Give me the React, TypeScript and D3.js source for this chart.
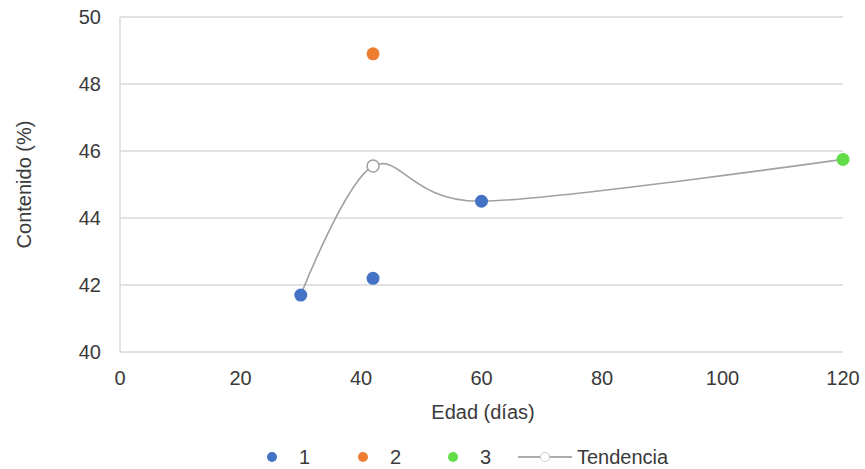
import React from "react";
import * as d3 from "d3";

// Measured samples per group (age in days, content %)
const group1Days = [30, 42, 60];
const group1Values = [41.7, 42.2, 44.5];
const group2Days = [42];
const group2Values = [48.9];
const group3Days = [120];
const group3Values = [45.75];

// Trend: mean content at each age
const trendDays = [30, 42, 60, 120];
const trendValues = [41.7, 45.55, 44.5, 45.75];

const xTicks = [0, 20, 40, 60, 80, 100, 120];
const yTicks = [40, 42, 44, 46, 48, 50];

const legendLabels = ["1", "2", "3", "Tendencia"];

const W = 865;
const H = 469;
const FONT = "Liberation Sans, Arial, sans-serif";
const FS = 20;
const TEXT = "#3a3a3a";

export default function App() {
  const x = d3.scaleLinear().domain([0, 120]).range([120, 843]);
  const y = d3.scaleLinear().domain([40, 50]).range([352, 17]);

  const trendLine = d3
    .line<number>()
    .x((_, i) => x(trendDays[i]))
    .y((d) => y(d))
    .curve(d3.curveCardinal.tension(0.1));

  const groups = [
    { days: group1Days, values: group1Values, color: "#4472c4" },
    { days: group2Days, values: group2Values, color: "#ed7d31" },
    { days: group3Days, values: group3Values, color: "#62dc47" },
  ];

  const legendY = 457;
  const legendItems = [
    { dx: 272, tx: 299, color: groups[0].color },
    { dx: 363, tx: 390, color: groups[1].color },
    { dx: 453, tx: 480, color: groups[2].color },
  ];

  return (
    <svg
      width={W}
      height={H}
      style={{ position: "absolute", left: 0, top: 0, background: "#fff" }}
      fontFamily={FONT}
    >
      {/* horizontal gridlines */}
      {yTicks.map((t) => (
        <line
          key={"g" + t}
          x1={x(0)}
          x2={x(120)}
          y1={y(t)}
          y2={y(t)}
          stroke="#d9d9d9"
          strokeWidth={1.5}
        />
      ))}
      {/* left axis line */}
      <line x1={x(0)} x2={x(0)} y1={y(50)} y2={y(40)} stroke="#d9d9d9" strokeWidth={1.5} />

      {/* y tick labels */}
      {yTicks.map((t) => (
        <text
          key={"yt" + t}
          x={x(0) - 19}
          y={y(t)}
          dy="0.35em"
          textAnchor="end"
          fontSize={FS}
          fill={TEXT}
        >
          {t}
        </text>
      ))}
      {/* x tick labels */}
      {xTicks.map((t) => (
        <text
          key={"xt" + t}
          x={x(t)}
          y={y(40) + 33}
          textAnchor="middle"
          fontSize={FS}
          fill={TEXT}
        >
          {t}
        </text>
      ))}

      {/* axis titles */}
      <text x={483} y={419} textAnchor="middle" fontSize={FS} fill={TEXT}>
        Edad (días)
      </text>
      <text
        transform={`translate(31, ${(y(50) + y(40)) / 2}) rotate(-90)`}
        textAnchor="middle"
        fontSize={FS}
        fill={TEXT}
      >
        Contenido (%)
      </text>

      {/* trend line */}
      <path d={trendLine(trendValues) ?? ""} fill="none" stroke="#a0a0a0" strokeWidth={1.6} />

      {/* group markers */}
      {groups.map((g, gi) =>
        g.values.map((v, i) => (
          <circle
            key={`p${gi}-${i}`}
            cx={x(g.days[i])}
            cy={y(v)}
            r={6.5}
            fill={g.color}
          />
        ))
      )}

      {/* open trend marker where groups overlap */}
      <circle
        cx={x(trendDays[1])}
        cy={y(trendValues[1])}
        r={6}
        fill="#fff"
        stroke="#a0a0a0"
        strokeWidth={1.5}
      />

      {/* legend */}
      {legendItems.map((item, i) => (
        <g key={"lg" + i}>
          <circle cx={item.dx} cy={legendY} r={5} fill={item.color} />
          <text x={item.tx} y={legendY} dy="0.35em" fontSize={FS} fill={TEXT}>
            {legendLabels[i]}
          </text>
        </g>
      ))}
      <line x1={518} x2={572} y1={legendY} y2={legendY} stroke="#909090" strokeWidth={1.5} />
      <circle cx={545} cy={legendY} r={4.5} fill="#fff" stroke="#d0d0d0" strokeWidth={1.2} />
      <text x={577} y={legendY} dy="0.35em" fontSize={FS} fill={TEXT}>
        {legendLabels[3]}
      </text>
    </svg>
  );
}
